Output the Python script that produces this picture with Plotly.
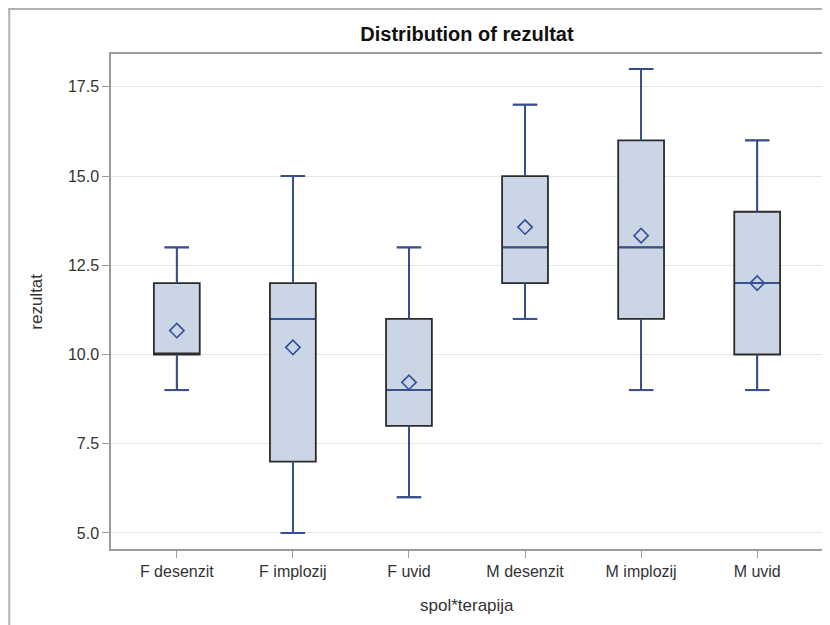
import plotly.graph_objects as go

categories = ["F desenzit", "F implozij", "F uvid", "M desenzit", "M implozij", "M uvid"]
mins = [9, 5, 6, 11, 9, 9]
q1s = [10, 7, 8, 12, 11, 10]
medians = [10, 11, 9, 13, 13, 12]
q3s = [12, 12, 11, 15, 16, 14]
maxs = [13, 15, 13, 17, 18, 16]
means = [10.67, 10.2, 9.22, 13.57, 13.33, 12.0]
y_ticks = [5.0, 7.5, 10.0, 12.5, 15.0, 17.5]

BOX_W = 0.395
CAP_W = 0.21
BLUE = "#34509a"
FILL = "#cad5e5"
FONT = "Liberation Sans, Arial, sans-serif"

# figure geometry (page has an 8px body margin)
W, H = 822, 617
ML, MR, MT, MB = 103, 5, 46, 76
PW = W - ML - MR
PH = H - MT - MB


def px_x(fx):
    return (fx - ML) / PW


def px_y(fy):
    return (H - MB - fy) / PH


xs = list(range(len(categories)))

fig = go.Figure()
fig.add_trace(go.Box(
    x=xs, q1=q1s, median=medians, q3=q3s, lowerfence=mins, upperfence=maxs,
    width=BOX_W, whiskerwidth=CAP_W / BOX_W,
    fillcolor=FILL, line=dict(color="#2b2b2b", width=1.8),
    boxpoints=False, showlegend=False, hoverinfo="skip",
))

# blue whiskers, caps and medians
lx, ly = [], []
for i in xs:
    lx += [i, i, None, i - CAP_W / 2, i + CAP_W / 2, None]
    ly += [q3s[i], maxs[i], None, maxs[i], maxs[i], None]
    lx += [i, i, None, i - CAP_W / 2, i + CAP_W / 2, None]
    ly += [q1s[i], mins[i], None, mins[i], mins[i], None]
    if q1s[i] < medians[i] < q3s[i]:
        lx += [i - BOX_W / 2 + 0.01, i + BOX_W / 2 - 0.01, None]
        ly += [medians[i], medians[i], None]
fig.add_trace(go.Scatter(x=lx, y=ly, mode="lines", line=dict(color=BLUE, width=1.8),
                         showlegend=False, hoverinfo="skip"))

fig.add_trace(go.Scatter(x=xs, y=means, mode="markers",
                         marker=dict(symbol="diamond-open", size=11, color=BLUE,
                                     line=dict(color=BLUE, width=1.6)),
                         showlegend=False, hoverinfo="skip"))

fig.update_layout(
    width=W, height=H,
    margin=dict(l=ML, r=MR, t=MT, b=MB),
    paper_bgcolor="white", plot_bgcolor="white",
    font=dict(family=FONT, size=16, color="#333333"),
    title=dict(text="<b>Distribution of rezultat</b>", x=0.5, xref="paper",
               y=1 - 26 / H, yref="container", xanchor="center", yanchor="middle",
               font=dict(family=FONT, size=20, color="#111111")),
    xaxis=dict(range=[-0.567, 5.567], tickmode="array", tickvals=xs, ticktext=categories,
               showgrid=False, zeroline=False, showline=True, mirror=True,
               linecolor="#9c9c9c", linewidth=1.5, ticks="outside", ticklen=7,
               tickcolor="#9c9c9c", tickfont=dict(size=16, color="#333333")),
    yaxis=dict(range=[4.55, 18.42], tickmode="array", tickvals=y_ticks,
               ticktext=[f"{v:.1f}" for v in y_ticks],
               showgrid=True, gridcolor="#e6e6e6", gridwidth=1, zeroline=False,
               showline=True, mirror=True, linecolor="#9c9c9c", linewidth=1.5,
               ticks="outside", ticklen=7, tickcolor="#9c9c9c",
               tickfont=dict(size=16, color="#333333")),
    annotations=[
        dict(text="rezultat", xref="paper", yref="paper", x=px_x(28), y=0.5,
             xanchor="center", yanchor="middle", textangle=-90, showarrow=False,
             font=dict(family=FONT, size=17, color="#333333")),
        dict(text="spol*terapija", xref="paper", yref="paper", x=0.5, y=px_y(597),
             xanchor="center", yanchor="middle", showarrow=False,
             font=dict(family=FONT, size=17, color="#333333")),
    ],
    shapes=[
        dict(type="line", xref="paper", yref="paper", x0=px_x(1), x1=px_x(1),
             y0=px_y(0), y1=px_y(H + 20), line=dict(color="#b0b0b0", width=2)),
        dict(type="line", xref="paper", yref="paper", x0=px_x(0), x1=px_x(W + 20),
             y0=px_y(1), y1=px_y(1), line=dict(color="#b0b0b0", width=2)),
    ],
)

fig.write_html("out.html")
